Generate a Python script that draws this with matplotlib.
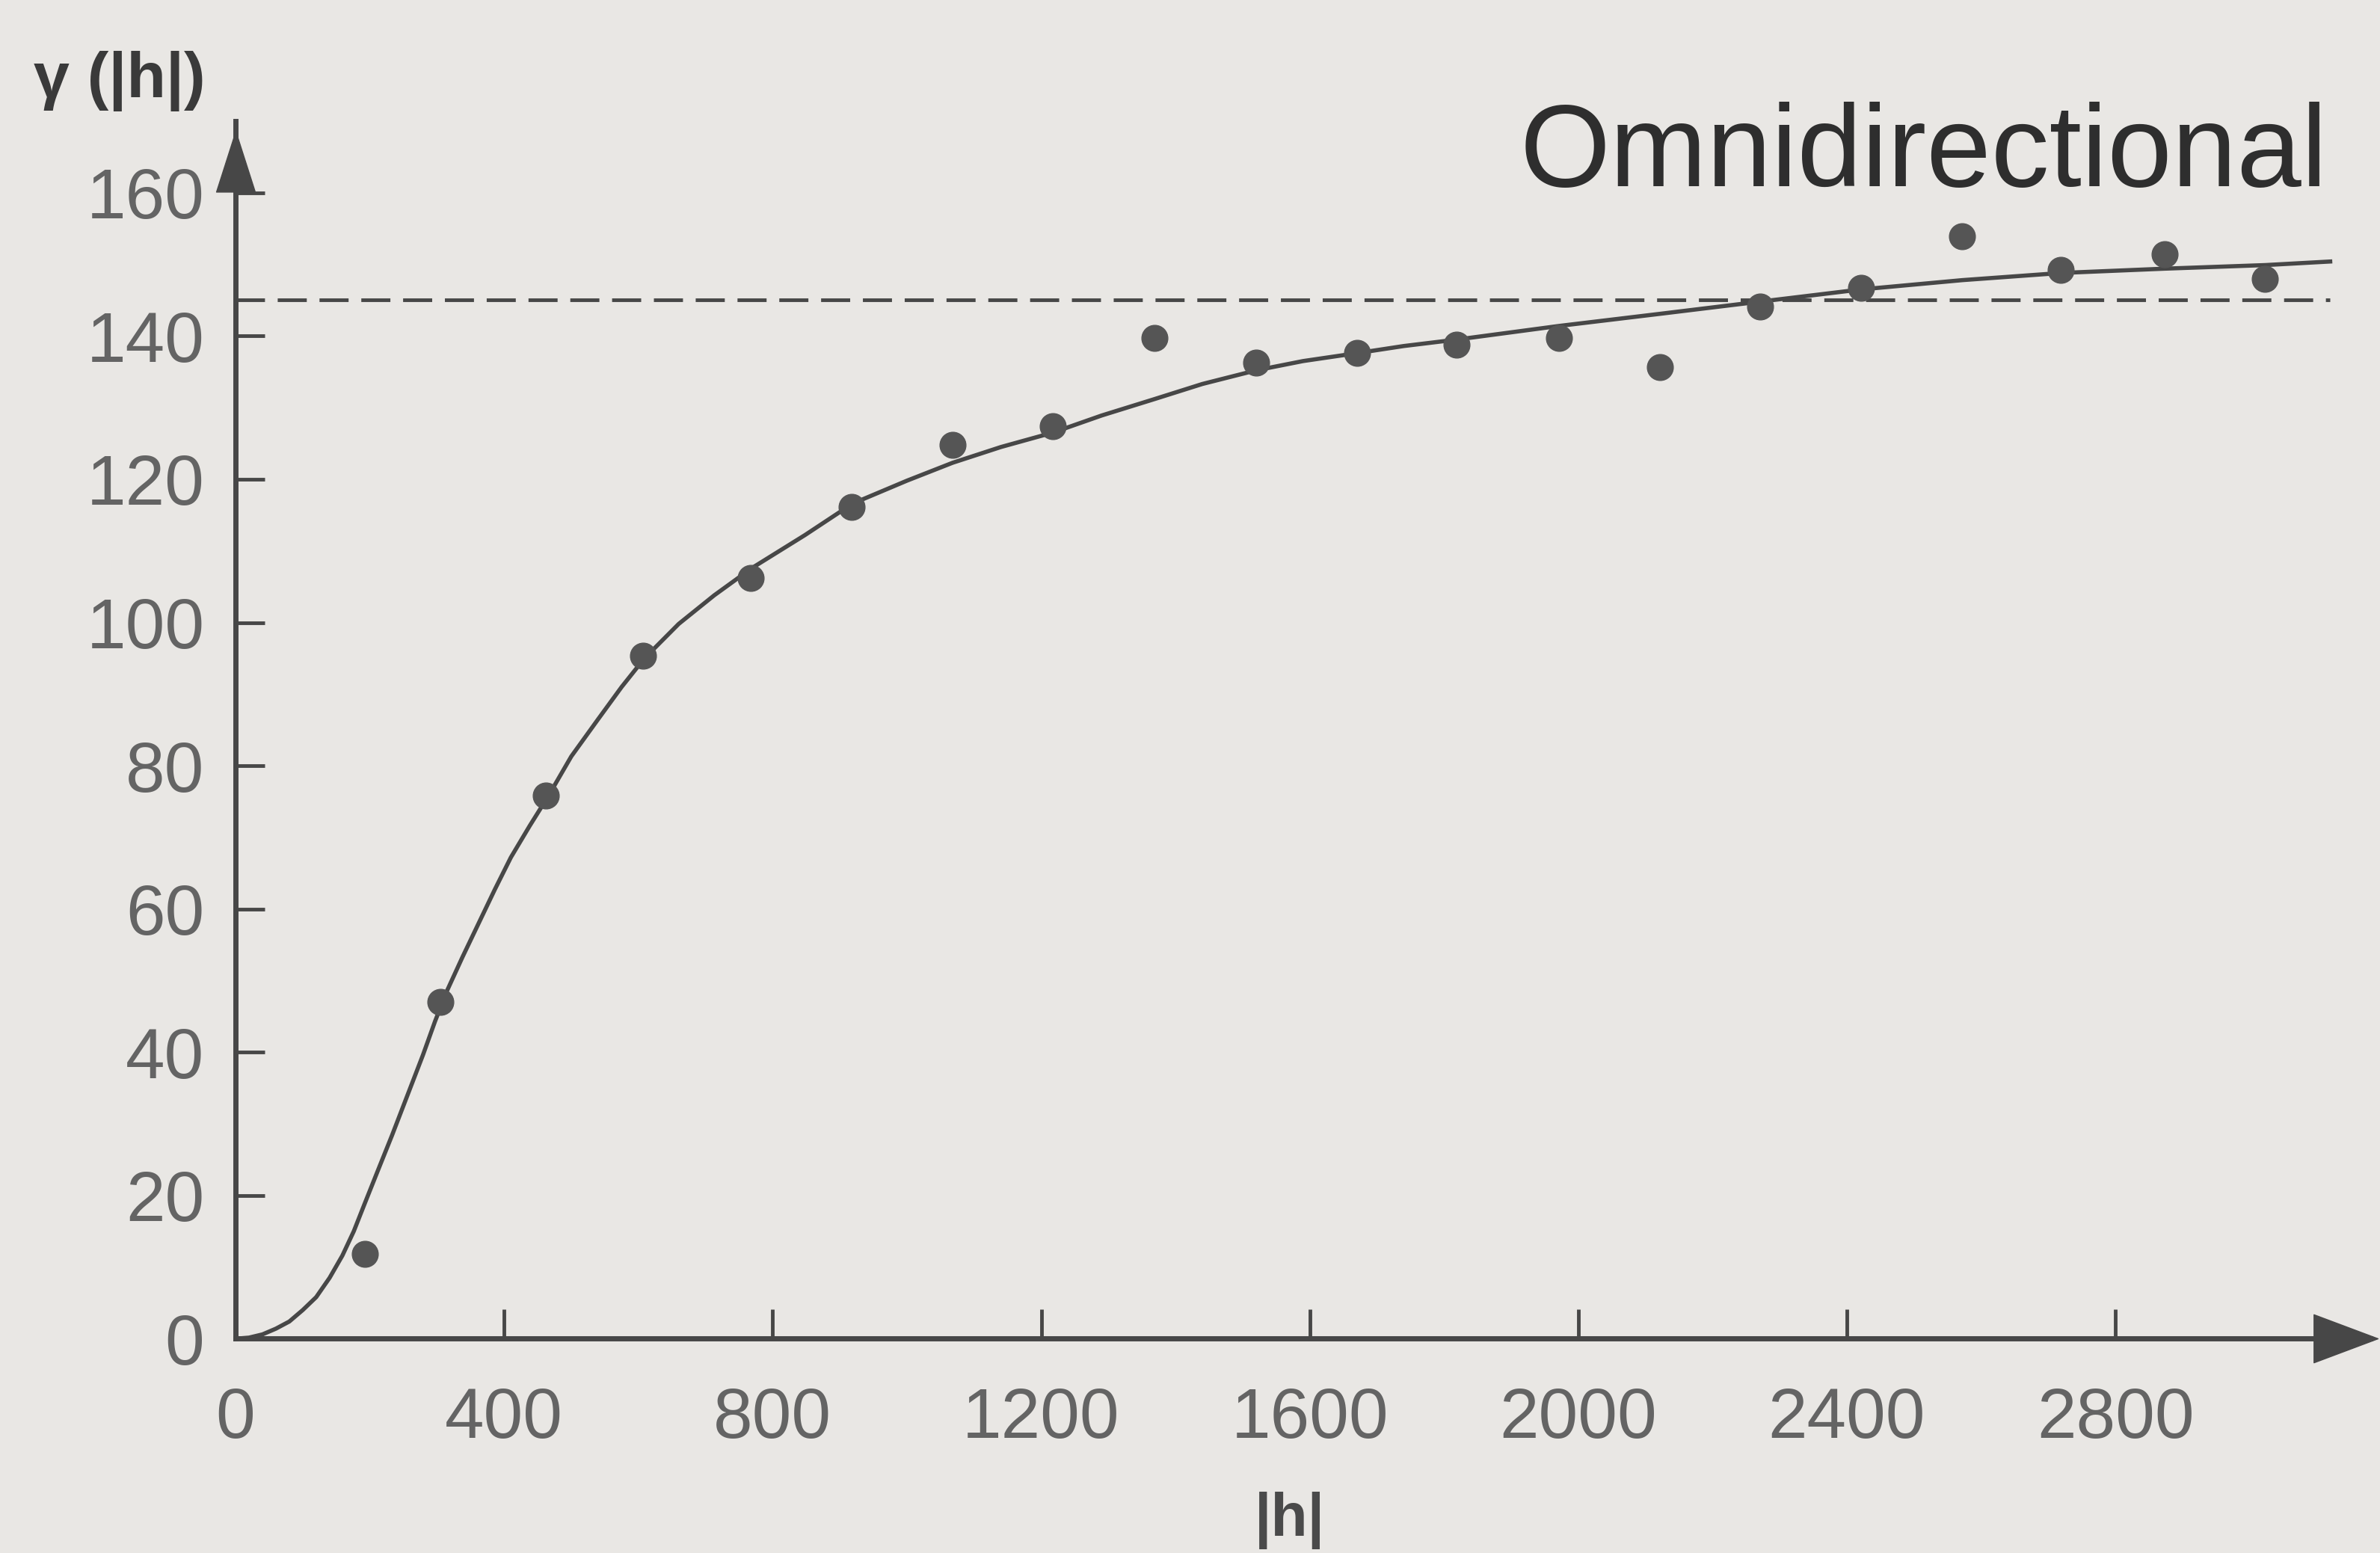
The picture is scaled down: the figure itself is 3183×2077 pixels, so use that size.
import matplotlib.pyplot as plt
from matplotlib.path import Path

# experimental variogram (lag |h|, gamma)
lag_h = [193, 305, 462, 607, 767, 918, 1068, 1217, 1369, 1520,
         1670, 1819, 1971, 2122, 2271, 2421, 2572, 2719, 2873, 3023]
gamma_exp = [11.8, 47.0, 75.8, 95.4, 106.2, 116.1, 124.8, 127.4, 139.7, 136.3,
             137.6, 138.8, 139.7, 135.7, 144.1, 146.7, 153.9, 149.2, 151.4, 148.0]

# fitted model
model_h = [0, 20, 40, 60, 80, 100, 120, 140, 159, 176, 192, 212, 233, 256, 279,
           297, 315, 338, 362, 386, 410, 438, 466, 500, 540, 575, 609, 660, 713,
           769, 848, 919, 1000, 1068, 1140, 1217, 1290, 1369, 1440, 1520, 1590,
           1670, 1740, 1819, 1971, 2122, 2271, 2421, 2572, 2719, 2873, 3023, 3120]
model_gamma = [0, 0.15, 0.6, 1.4, 2.4, 4.0, 5.8, 8.5, 11.6, 15.0, 18.8, 23.5, 28.4,
               34.0, 39.6, 44.3, 48.6, 53.3, 58.0, 62.7, 67.2, 71.6, 75.8, 81.3,
               86.5, 91.0, 95.0, 99.8, 103.8, 107.6, 112.2, 116.6, 119.8, 122.3,
               124.5, 126.5, 128.9, 131.2, 133.3, 135.2, 136.5, 137.6, 138.6,
               139.5, 141.4, 143.1, 144.8, 146.5, 147.8, 148.8, 149.4, 149.9, 150.4]

sill = 145
sill_end = 3120

x_ticks = [0, 400, 800, 1200, 1600, 2000, 2400, 2800]
y_ticks = [0, 20, 40, 60, 80, 100, 120, 140, 160]

bg = '#e9e7e4'
ink = '#474747'
num_font = ['Liberation Sans Narrow', 'Liberation Sans', 'DejaVu Sans']

fig = plt.figure(figsize=(31.83, 20.77), dpi=100, facecolor=bg)
ax = fig.add_axes([0.099, 0.138, 0.897, 0.784])
ax.set_facecolor(bg)

ax.plot([0, sill_end], [sill, sill], color=ink, lw=3.5, dashes=(8, 3.5), zorder=2)
ax.plot(model_h, model_gamma, color=ink, lw=4, zorder=3)
ax.plot(lag_h, gamma_exp, 'o', color='#555555', markersize=25, zorder=4)

ax.set_xlim(0, 3180)
ax.set_ylim(0, 170)
ax.set_xticks(x_ticks)
ax.set_yticks(y_ticks)

for side in ['top', 'right']:
    ax.spines[side].set_visible(False)
for side in ['left', 'bottom']:
    ax.spines[side].set_linewidth(5)
    ax.spines[side].set_color(ink)

ax.tick_params(direction='in', length=28, width=3.5, color=ink,
               labelsize=68, labelcolor='#646464')
ax.tick_params(axis='y', pad=30)
ax.tick_params(axis='x', pad=46)
for lab in ax.get_xticklabels() + ax.get_yticklabels():
    lab.set_family(num_font)

# arrow heads on the axes
up = Path([(0, 1.5), (-0.8, -1), (0.8, -1), (0, 1.5)])
right = Path([(1.4, 0), (-1, 0.9), (-1, -0.9), (1.4, 0)])
ax.plot([0], [163.5], marker=up, color=ink, markersize=70, clip_on=False, zorder=5)
ax.plot([3135], [0], marker=right, color=ink, markersize=72, clip_on=False, zorder=5)

fig.text(0.978, 0.88, 'Omnidirectional', ha='right', va='baseline',
         fontsize=112, color='#2e2e2e', family=num_font)
fig.text(0.014, 0.948, 'γ (|h|)', ha='left', va='center',
         fontsize=62, fontweight='bold', color='#3a3a3a', family='Liberation Sans')
fig.text(0.542, 0.021, '|h|', ha='center', va='center',
         fontsize=58, fontweight='bold', color='#4a4a4a', family='Liberation Sans')

fig.savefig('out.png', dpi=100, facecolor=bg)
